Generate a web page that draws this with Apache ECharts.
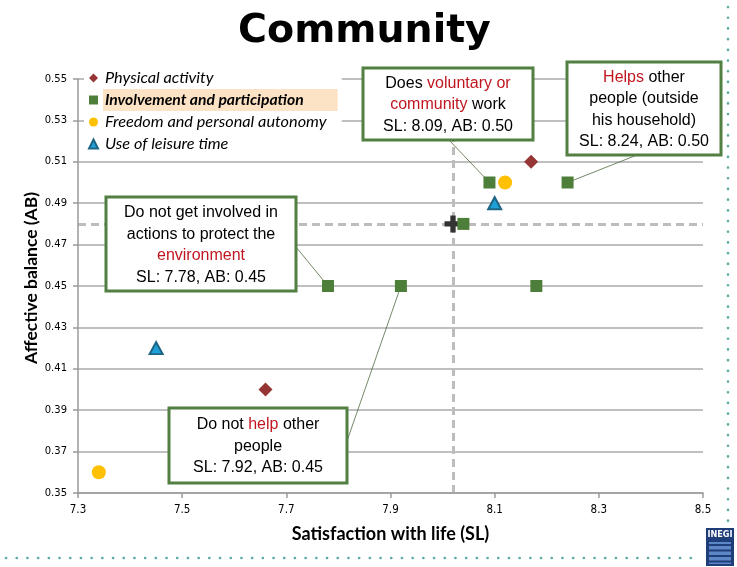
<!DOCTYPE html>
<html>
<head>
<meta charset="utf-8">
<script src="https://cdn.jsdelivr.net/npm/echarts@6/dist/echarts.min.js"></script>
<style>
html,body{margin:0;padding:0;background:#fff;}
#chart{width:737px;height:567px;}
</style>
</head>
<body>
<div id="chart"></div>
<script>
// ---- data ----
const seriesNames = ['Physical activity', 'Involvement and participation', 'Freedom and personal autonomy', 'Use of leisure time'];
const physicalSL = [8.17, 7.66];
const physicalAB = [0.51, 0.40];
const involvementSL = [8.09, 8.24, 8.04, 7.78, 7.92, 8.18];
const involvementAB = [0.50, 0.50, 0.48, 0.45, 0.45, 0.45];
const freedomSL = [8.12, 7.34];
const freedomAB = [0.50, 0.36];
const leisureSL = [8.10, 7.45];
const leisureAB = [0.49, 0.42];
const meanSL = [8.02];
const meanAB = [0.48];
const xTicks = [7.3, 7.5, 7.7, 7.9, 8.1, 8.3, 8.5];
const yTicks = [0.35, 0.37, 0.39, 0.41, 0.43, 0.45, 0.47, 0.49, 0.51, 0.53, 0.55];
const notes = [
  {text: 'Does {r|voluntary or}\n{r|community} work\nSL: 8.09, AB: 0.50', idx: 0},
  {text: '{r|Helps} other\npeople (outside\nhis household)\nSL: 8.24, AB: 0.50', idx: 1},
  {text: 'Do not get involved in\nactions to protect the\n{r|environment}\nSL: 7.78, AB: 0.45', idx: 3},
  {text: 'Do not {r|help} other\npeople\nSL: 7.92, AB: 0.45', idx: 4}
];

const zip = (a, b) => a.map((v, i) => [v, b[i]]);

const chart = echarts.init(document.getElementById('chart'), null, {renderer: 'canvas'});

const option = {
  animation: false,
  backgroundColor: '#ffffff',
  title: {
    text: 'Community',
    left: 233,
    top: 7,
    textStyle: {fontFamily: 'DejaVu Sans', fontWeight: 'bold', fontSize: 39.5, color: '#000'}
  },
  grid: {left: 78, right: 34, top: 79, bottom: 74, containLabel: false},
  xAxis: {
    type: 'value', min: xTicks[0], max: xTicks[xTicks.length - 1], interval: 0.2,
    name: 'Satisfaction with life (SL)', nameLocation: 'middle', nameGap: 32,
    nameTextStyle: {fontFamily: 'Lato', fontWeight: 'bold', fontSize: 18, color: '#000'},
    axisLine: {show: true, lineStyle: {color: '#9a9a9a', width: 1.5}},
    axisTick: {show: true, length: 5, lineStyle: {color: '#9a9a9a', width: 1.5}},
    axisLabel: {fontFamily: 'DejaVu Sans Condensed', fontSize: 11.5, color: '#000', margin: 11,
      formatter: v => v.toFixed(1)},
    splitLine: {show: false}
  },
  yAxis: {
    type: 'value', min: yTicks[0], max: yTicks[yTicks.length - 1], interval: 0.02,
    name: 'Affective balance (AB)', nameLocation: 'middle', nameGap: 38, nameMoveOverlap: false,
    nameTextStyle: {fontFamily: 'Lato', fontWeight: 'bold', fontSize: 17.5, color: '#000', padding: [0, 0, 0, 16]},
    axisLine: {show: true, lineStyle: {color: '#9a9a9a', width: 1.5}},
    axisTick: {show: true, length: 5, lineStyle: {color: '#9a9a9a', width: 1.5}},
    axisLabel: {fontFamily: 'DejaVu Sans', fontSize: 10, color: '#000', margin: 11,
      formatter: v => v.toFixed(2)},
    splitLine: {show: true, lineStyle: {color: '#c0c0c0', width: 2}}
  },
  legend: {
    orient: 'vertical', left: 84, top: 64, padding: [3, 4, 3, 4],
    backgroundColor: '#ffffff', itemGap: 0, itemWidth: 9, itemHeight: 9,
    textStyle: {fontFamily: 'Lato', fontStyle: 'italic', fontSize: 16.3, color: '#000', lineHeight: 20, padding: [1, 2, 1, 2]},
    data: [
      {name: seriesNames[0], icon: 'diamond'},
      {name: seriesNames[1], icon: 'rect', textStyle: {fontWeight: 'bold', fontStyle: 'italic', fontSize: 15.7, backgroundColor: '#fde3c6', padding: [1, 34, 1, 2]}},
      {name: seriesNames[2], icon: 'circle'},
      {name: seriesNames[3], icon: 'triangle'}
    ]
  },
  series: [
    {
      name: 'mean', type: 'scatter', z: 1,
      symbol: 'path://M5.5,0h5v5.5h5.5v5h-5.5v5.5h-5v-5.5h-5.5v-5h5.5z', symbolSize: 17,
      itemStyle: {color: '#333333', opacity: 1},
      data: zip(meanSL, meanAB),
      markLine: {
        silent: true, symbol: 'none', label: {show: false}, z: 0,
        lineStyle: {color: '#bdbdbd', width: 3, type: [8, 5]},
        data: [{xAxis: meanSL[0]}, {yAxis: meanAB[0]}]
      }
    },
    {name: seriesNames[0], type: 'scatter', symbol: 'diamond', symbolSize: 14,
      itemStyle: {color: '#963634', opacity: 1}, data: zip(physicalSL, physicalAB)},
    {name: seriesNames[1], type: 'scatter', symbol: 'rect', symbolSize: 12,
      itemStyle: {color: '#4e7f3a', opacity: 1}, data: zip(involvementSL, involvementAB)},
    {name: seriesNames[2], type: 'scatter', symbol: 'circle', symbolSize: 14,
      itemStyle: {color: '#ffc000', opacity: 1}, data: zip(freedomSL, freedomAB)},
    {name: seriesNames[3], type: 'scatter', symbol: 'triangle', symbolSize: [13, 12],
      itemStyle: {color: '#20a0d8', borderColor: '#1e6585', borderWidth: 2, opacity: 1}, data: zip(leisureSL, leisureAB)}
  ]
};
chart.setOption(option);

// ---- annotations (boxes are placed in page space; leader lines end at data points) ----
const boxes = [
  {x: 363, y: 68, w: 170, h: 72, ax: 449, ay: 140},
  {x: 567, y: 62, w: 154, h: 93, ax: 637, ay: 155},
  {x: 106, y: 197, w: 190, h: 94, ax: 296, ay: 247},
  {x: 169, y: 408, w: 178, h: 75, ax: 347, ay: 441}
];
const green = '#527f42';
const red = '#c0161f';
const graphics = [];
notes.forEach((n, i) => {
  const b = boxes[i];
  const p = chart.convertToPixel({seriesIndex: 2}, [involvementSL[n.idx], involvementAB[n.idx]]);
  graphics.push({type: 'line', z: 1, silent: true,
    shape: {x1: b.ax, y1: b.ay, x2: p[0], y2: p[1]},
    style: {stroke: '#4e6b40', lineWidth: 0.8}});
  graphics.push({type: 'rect', z: 100, silent: true,
    shape: {x: b.x, y: b.y, width: b.w, height: b.h},
    style: {fill: '#ffffff', stroke: green, lineWidth: 3}});
  graphics.push({type: 'text', z: 101, silent: true,
    x: b.x + b.w / 2, y: b.y + b.h / 2 + 1,
    style: {text: n.text, align: 'center', verticalAlign: 'middle',
      font: '16px "Liberation Sans", Arial, sans-serif', fill: '#000', lineHeight: 21.5,
      rich: {r: {fill: red, font: '16px "Liberation Sans", Arial, sans-serif', lineHeight: 21.5}}}});
});
// dotted frame
graphics.push({type: 'polyline', z: 0, silent: true,
  shape: {points: [[728, 7], [728, 522]]},
  style: {stroke: '#5aaaa6', lineWidth: 2.6, lineDash: [0.1, 10.6], lineCap: 'round'}});
graphics.push({type: 'polyline', z: 0, silent: true,
  shape: {points: [[6, 558], [698, 558]]},
  style: {stroke: '#5aaaa6', lineWidth: 2.6, lineDash: [0.1, 10.6], lineCap: 'round'}});
// logo
graphics.push({type: 'rect', z: 0, silent: true, shape: {x: 706, y: 528, width: 28, height: 38}, style: {fill: '#1f3d78'}});
graphics.push({type: 'rect', z: 0, silent: true, shape: {x: 709, y: 542, width: 22, height: 22}, style: {fill: '#5d86c6'}});
[0, 1, 2, 3].forEach(k => {
  graphics.push({type: 'rect', z: 0, silent: true, shape: {x: 709, y: 544 + k * 5.5, width: 22, height: 2}, style: {fill: '#1f3d78'}});
});
graphics.push({type: 'text', z: 1, silent: true, x: 720, y: 535,
  style: {text: 'INEGI', align: 'center', verticalAlign: 'middle', font: 'bold 9px "DejaVu Sans Condensed", sans-serif', fill: '#ffffff'}});
chart.setOption({graphic: graphics});
</script>
</body>
</html>
